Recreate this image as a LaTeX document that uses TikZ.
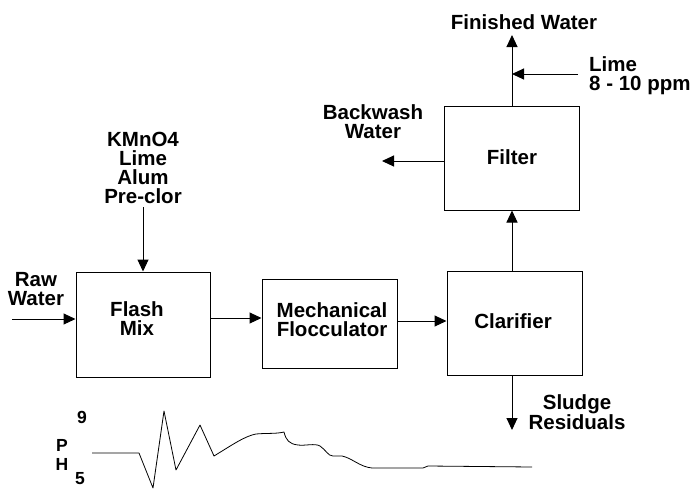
\documentclass[tikz,border=0pt]{standalone}
\usepackage{fontspec}
\setmainfont{Liberation Sans}
\usetikzlibrary{arrows.meta}
\tikzset{
  every picture/.style={x=1pt,y=-1pt},
  box/.style={draw, line width=1pt, rectangle, inner sep=0pt},
  lbl/.style={inner sep=0pt, align=center, font=\fontsize{20.5}{19}\selectfont\bfseries},
  phl/.style={inner sep=0pt, font=\fontsize{17.5}{17.5}\selectfont\bfseries},
  arr/.style={line width=1pt, -{Triangle[length=12pt,width=11pt]}},
  curve/.style={line width=0.8pt, line join=round}
}
\begin{document}
\begin{tikzpicture}
\fill[white] (0,0) rectangle (694,491);
\useasboundingbox (0,0) rectangle (694,491);
\clip (0,0) rectangle (694,491);

% boxes
\node[box, minimum width=134pt, minimum height=105pt] (flash) at (143,324.5) {};
\node[box, minimum width=135pt, minimum height=89pt]  (mech)  at (329.5,323.5) {};
\node[box, minimum width=135pt, minimum height=104pt] (clar)  at (514.5,323) {};
\node[box, minimum width=135pt, minimum height=104pt] (filter) at (511.5,158) {};

% box texts
\node[lbl] (flasht) at (137,318.5) {Flash\\Mix};
\node[lbl] (mecht)  at (332,319.5) {Mechanical\\Flocculator};
\node[lbl] (clart)  at (513,321) {Clarifier};
\node[lbl] (filtert) at (512,157) {Filter};

% outside labels
\node[lbl] (raw) at (36,289.5) {Raw\\Water};
\node[lbl] (chem) at (143,168) {KMnO4\\Lime\\Alum\\Pre-clor};
\node[lbl] (finished) at (524,22) {Finished Water};
\node[lbl, align=left, anchor=west] (lime) at (589,75.5) {Lime\\8 - 10 ppm};
\node[lbl] (backwash) at (373,121.5) {Backwash\\Water};
\node[lbl] (sludge) at (577,412) {Sludge\\Residuals};

% helper coordinates
\coordinate (rawstart) at (12,319);
\coordinate (chemstart) at (143,207);
\coordinate (a1) at (0,318);
\coordinate (a2) at (0,321);
\coordinate (vx) at (512,0);
\coordinate (finend) at (512,35);
\coordinate (limestart) at (578,74);
\coordinate (bwend) at (382,161);
\coordinate (sludgeend) at (512,430);

% connectors
\draw[arr] (rawstart) -- (rawstart -| flash.west);
\draw[arr] (chemstart) -- (chemstart |- flash.north);
\draw[arr] (a1 -| flash.east) -- (a1 -| mech.west);
\draw[arr] (a2 -| mech.east) -- (a2 -| clar.west);
\draw[arr] (vx |- clar.north) -- (vx |- filter.south);
\draw[arr] (vx |- filter.north) -- (finend);
\draw[arr] (limestart) -- (limestart -| vx);
\draw[arr] (bwend -| filter.west) -- (bwend);
\draw[arr] (vx |- clar.south) -- (sludgeend);

% pH labels
\node[phl] (nine) at (82,417) {9};
\node[phl] (p) at (62,445) {P};
\node[phl] (h) at (62,464) {H};
\node[phl] (five) at (80,479) {5};

% pH curve
\draw[curve] (92,453) -- (139,453) -- (153,488) -- (164,411) -- (176,470) -- (200,425) -- (214,456)
  .. controls (232,445) and (245,436) .. (256,434)
  .. controls (266,433) and (276,434) .. (284,432)
  .. controls (286,440) and (289,444) .. (298,445)
  .. controls (305,446) and (315,443) .. (320,446)
  .. controls (326,450) and (328,456) .. (333,456)
  -- (342,456)
  .. controls (352,458) and (360,467) .. (372,468)
  -- (423,468) -- (428,466) -- (532,467);
\end{tikzpicture}
\end{document}
